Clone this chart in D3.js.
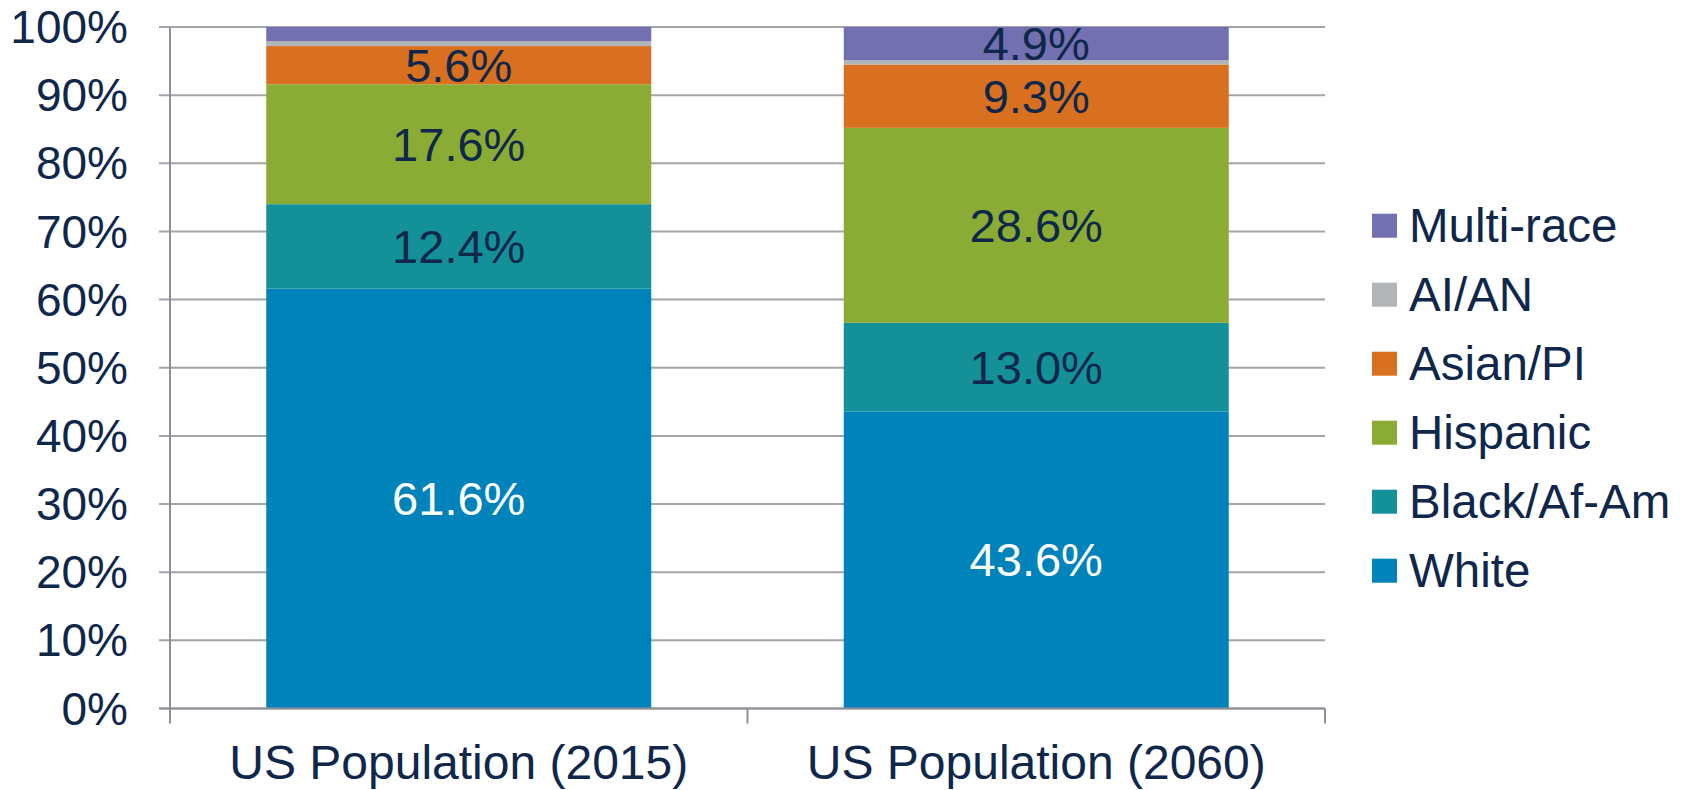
<!DOCTYPE html>
<html><head><meta charset="utf-8">
<script src="https://cdn.jsdelivr.net/npm/d3@7"></script>
<style>html,body{margin:0;padding:0;background:#fff;}svg{display:block;}</style>
</head><body>
<svg id="chart" width="1686" height="790"></svg>
<script>
const categories = ["US Population (2015)", "US Population (2060)"];
const seriesNames = ["White", "Black/Af-Am", "Hispanic", "Asian/PI", "AI/AN", "Multi-race"];
const white    = [61.6, 43.6];
const black    = [12.4, 13.0];
const hispanic = [17.6, 28.6];
const asian    = [5.6, 9.3];
const aian     = [0.7, 0.6];
const multi    = [2.1, 4.9];
const showLabel = {"White":[true,true],"Black/Af-Am":[true,true],"Hispanic":[true,true],"Asian/PI":[true,true],"AI/AN":[false,false],"Multi-race":[false,true]};
const yTicks = [0,10,20,30,40,50,60,70,80,90,100];
const colors = {"White":"#0082BA","Black/Af-Am":"#149198","Hispanic":"#8BAC34","Asian/PI":"#D97020","AI/AN":"#B1B5B8","Multi-race":"#7270B1"};
const textColor = "#0E274B";
const font = "'Liberation Sans', Arial, sans-serif";

const valuesBy = {"White":white,"Black/Af-Am":black,"Hispanic":hispanic,"Asian/PI":asian,"AI/AN":aian,"Multi-race":multi};
const table = categories.map((c,i)=>{const o={cat:c}; seriesNames.forEach(s=>o[s]=valuesBy[s][i]); return o;});
const stack = d3.stack().keys(seriesNames)(table);

const svg = d3.select("#chart");
const L = 170, R = 1325, T = 27, B = 708.5;
const x = d3.scaleBand().domain(categories).range([L,R]).paddingInner(1/3).paddingOuter(1/6);
const y = d3.scaleLinear().domain([0,100]).range([B,T]);

// grid
svg.append("g").selectAll("line").data(yTicks).join("line")
  .attr("x1", L-11).attr("x2", R).attr("y1", d=>y(d)).attr("y2", d=>y(d))
  .attr("stroke", "#A3A3AA").attr("stroke-width", 2);

// bars
const g = svg.append("g");
stack.forEach(layer=>{
  g.append("g").selectAll("rect").data(layer).join("rect")
    .attr("x", d=>x(d.data.cat)).attr("width", x.bandwidth())
    .attr("y", d=>y(d[1])).attr("height", d=>y(d[0])-y(d[1]))
    .attr("fill", colors[layer.key]);
});

// axes lines
svg.append("line").attr("x1",L).attr("x2",L).attr("y1",T).attr("y2",B+14).attr("stroke","#8F8F97").attr("stroke-width",2);
svg.append("line").attr("x1",L-11).attr("x2",R).attr("y1",B).attr("y2",B).attr("stroke","#8F8F97").attr("stroke-width",2);
const bounds = [L, (L+R)/2, R];
svg.append("g").selectAll("line").data(bounds).join("line")
  .attr("x1",d=>d).attr("x2",d=>d).attr("y1",B).attr("y2",B+15)
  .attr("stroke","#8F8F97").attr("stroke-width",2);

// y tick labels
svg.append("g").selectAll("text").data(yTicks).join("text")
  .attr("x", 128).attr("y", d=>y(d)).attr("dy","0.35em")
  .attr("text-anchor","end").attr("font-family",font).attr("font-size",46)
  .attr("fill",textColor).text(d=>d+"%");

// x labels
svg.append("g").selectAll("text").data(categories).join("text")
  .attr("x", d=>x(d)+x.bandwidth()/2).attr("y", 779)
  .attr("text-anchor","middle").attr("font-family",font).attr("font-size",48)
  .attr("fill",textColor).text(d=>d);

// data labels
stack.forEach(layer=>{
  svg.append("g").selectAll("text").data(layer.filter((d,i)=>showLabel[layer.key][i])).join("text")
    .attr("x", d=>x(d.data.cat)+x.bandwidth()/2)
    .attr("y", d=>(y(d[0])+y(d[1]))/2).attr("dy","0.35em")
    .attr("text-anchor","middle").attr("font-family",font).attr("font-size",47)
    .attr("fill", layer.key==="White" ? "#FFFFFF" : textColor)
    .text(d=>(d[1]-d[0]).toFixed(1)+"%");
});

// legend
const legendOrder = seriesNames.slice().reverse();
const lg = svg.append("g").selectAll("g").data(legendOrder).join("g")
  .attr("transform",(d,i)=>`translate(1372,${225.7+i*69})`);
lg.append("rect").attr("x",0).attr("y",-12).attr("width",25).attr("height",24).attr("fill",d=>colors[d]);
lg.append("text").attr("x",37).attr("y",0).attr("dy","0.35em")
  .attr("font-family",font).attr("font-size",47.5).attr("fill",textColor).text(d=>d);
</script>
</body></html>
